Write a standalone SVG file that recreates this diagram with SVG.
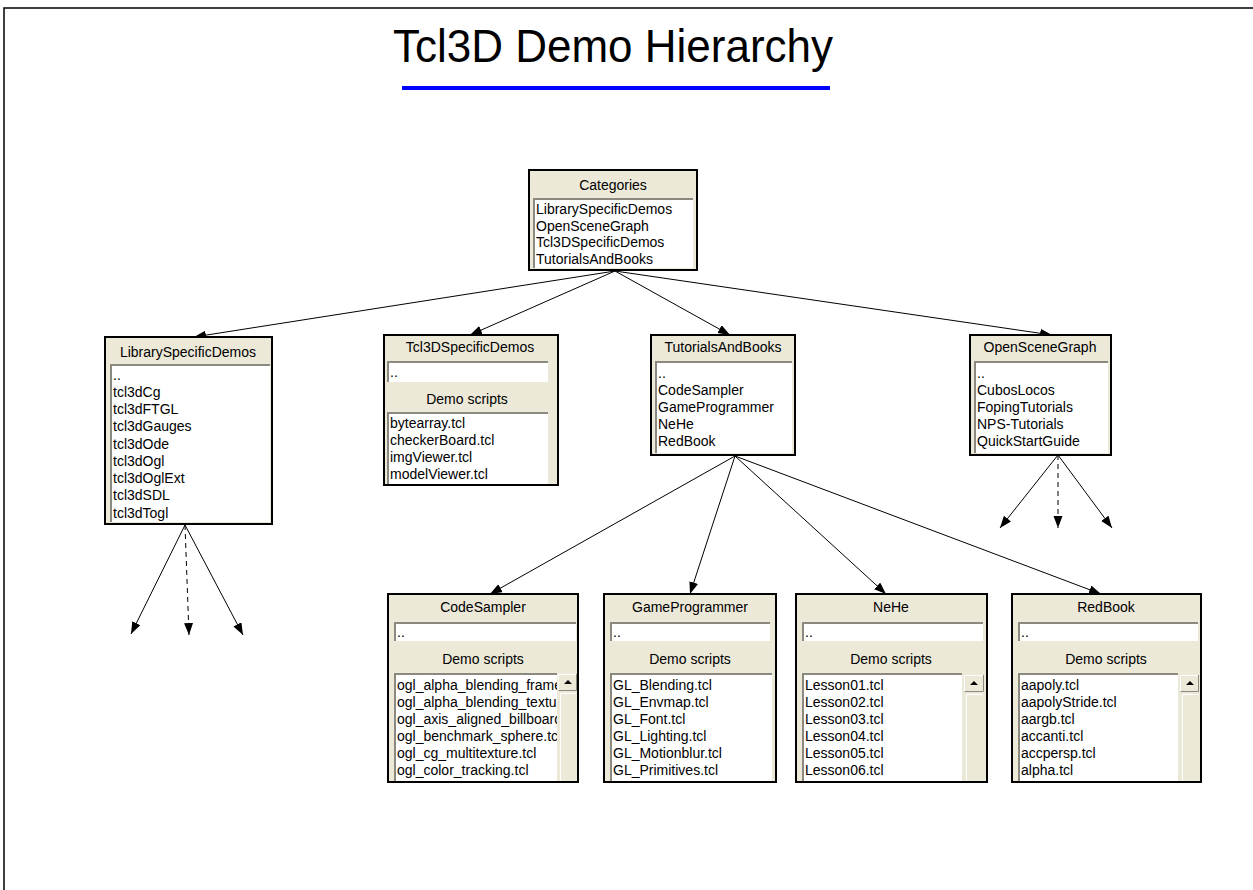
<svg xmlns="http://www.w3.org/2000/svg" width="1253" height="890" viewBox="0 0 1253 890">
<style>
.frame{fill:none;stroke:#000;stroke-width:1.5}
.box{fill:#ECE9D8;stroke:#000;stroke-width:2}
.lb{fill:#fff}
.sk{fill:none;stroke:#8c8a80;stroke-width:2}
.hl{fill:none;stroke:#fff;stroke-width:1}
.sh{fill:none;stroke:#8c8a80;stroke-width:1}
.sb{fill:#ECE9D8}
.t{font-family:"Liberation Sans",Arial,sans-serif;font-size:14px;fill:#000}
.h{text-anchor:middle}
.title{font-family:"Liberation Sans",Arial,sans-serif;font-size:46px;fill:#000;text-anchor:middle}
.edge{stroke:#000;stroke-width:1;fill:none;marker-end:url(#ah)}
.dash{stroke-dasharray:5 4}
</style>
<defs>
<marker id="ah" markerUnits="userSpaceOnUse" markerWidth="13" markerHeight="10" refX="12" refY="4.5" orient="auto">
<path d="M0,0 L12,4.5 L0,9 z" fill="#000"/>
</marker>
<clipPath id="c1"><rect x="394" y="673" width="163" height="108"/></clipPath>
<clipPath id="c2"><rect x="610" y="673" width="162" height="108"/></clipPath>
<clipPath id="c3"><rect x="802" y="673" width="160" height="108"/></clipPath>
<clipPath id="c4"><rect x="1018" y="673" width="160" height="108"/></clipPath>
</defs>
<rect width="1253" height="890" fill="#fff"/>
<rect class="frame" x="4" y="8" width="1262" height="900"/>
<g id="title">
<text class="title" x="613" y="62" textLength="440" lengthAdjust="spacingAndGlyphs">Tcl3D Demo Hierarchy</text>
<rect x="402" y="86" width="428" height="4" fill="#0000FF"/>
</g>
<g id="connectors">
<line class="edge" x1="615" y1="271" x2="194" y2="337"/>
<line class="edge" x1="615" y1="271" x2="470" y2="335"/>
<line class="edge" x1="615" y1="271" x2="730" y2="335"/>
<line class="edge" x1="615" y1="271" x2="1052" y2="335"/>
<line class="edge" x1="735" y1="456" x2="490" y2="594"/>
<line class="edge" x1="735" y1="456" x2="690" y2="594"/>
<line class="edge" x1="735" y1="456" x2="886" y2="594"/>
<line class="edge" x1="735" y1="456" x2="1101" y2="594"/>
<line class="edge" x1="185" y1="525" x2="131" y2="634"/>
<line class="edge dash" x1="185" y1="525" x2="189" y2="635"/>
<line class="edge" x1="185" y1="525" x2="243" y2="635"/>
<line class="edge" x1="1058" y1="455" x2="1000" y2="528"/>
<line class="edge dash" x1="1058" y1="455" x2="1058" y2="528"/>
<line class="edge" x1="1058" y1="455" x2="1112" y2="528"/>
</g>
<g id="categories">
<rect class="box" x="529" y="170" width="168" height="100"/>
<text class="t h" x="613" y="190">Categories</text>
<rect class="lb" x="533" y="198" width="160" height="70"/>
<path class="sk" d="M534,268 V199 H693"/>
<text class="t" x="536" y="214">LibrarySpecificDemos</text>
<text class="t" x="536" y="231">OpenSceneGraph</text>
<text class="t" x="536" y="247">Tcl3DSpecificDemos</text>
<text class="t" x="536" y="264">TutorialsAndBooks</text>
</g>
<g id="libraryspecificdemos">
<rect class="box" x="105" y="337" width="167" height="187"/>
<text class="t h" x="188" y="357">LibrarySpecificDemos</text>
<rect class="lb" x="110" y="364" width="160" height="158"/>
<path class="sk" d="M111,522 V365 H270"/>
<text class="t" x="113" y="380">..</text>
<text class="t" x="113" y="397">tcl3dCg</text>
<text class="t" x="113" y="414">tcl3dFTGL</text>
<text class="t" x="113" y="431">tcl3dGauges</text>
<text class="t" x="113" y="449">tcl3dOde</text>
<text class="t" x="113" y="466">tcl3dOgl</text>
<text class="t" x="113" y="483">tcl3dOglExt</text>
<text class="t" x="113" y="500">tcl3dSDL</text>
<text class="t" x="113" y="518">tcl3dTogl</text>
</g>
<g id="tcl3dspecificdemos">
<rect class="box" x="384" y="335" width="174" height="150"/>
<text class="t h" x="470" y="352">Tcl3DSpecificDemos</text>
<rect class="lb" x="387" y="361" width="161" height="21"/>
<path class="sk" d="M388,382 V362 H548"/>
<text class="t" x="390" y="377">..</text>
<text class="t h" x="467" y="404">Demo scripts</text>
<rect class="lb" x="387" y="412" width="161" height="72"/>
<path class="sk" d="M388,484 V413 H548"/>
<text class="t" x="390" y="428">bytearray.tcl</text>
<text class="t" x="390" y="445">checkerBoard.tcl</text>
<text class="t" x="390" y="462">imgViewer.tcl</text>
<text class="t" x="390" y="479">modelViewer.tcl</text>
</g>
<g id="tutorialsandbooks">
<rect class="box" x="651" y="335" width="144" height="120"/>
<text class="t h" x="723" y="352">TutorialsAndBooks</text>
<rect class="lb" x="655" y="361" width="137" height="92"/>
<path class="sk" d="M656,453 V362 H792"/>
<text class="t" x="658" y="378">..</text>
<text class="t" x="658" y="395">CodeSampler</text>
<text class="t" x="658" y="412">GameProgrammer</text>
<text class="t" x="658" y="429">NeHe</text>
<text class="t" x="658" y="446">RedBook</text>
</g>
<g id="openscenegraph">
<rect class="box" x="970" y="335" width="141" height="120"/>
<text class="t h" x="1040" y="352">OpenSceneGraph</text>
<rect class="lb" x="974" y="361" width="134" height="92"/>
<path class="sk" d="M975,453 V362 H1108"/>
<text class="t" x="977" y="378">..</text>
<text class="t" x="977" y="395">CubosLocos</text>
<text class="t" x="977" y="412">FopingTutorials</text>
<text class="t" x="977" y="429">NPS-Tutorials</text>
<text class="t" x="977" y="446">QuickStartGuide</text>
</g>
<g id="codesampler">
<rect class="box" x="388" y="594" width="190" height="188"/>
<text class="t h" x="483" y="612">CodeSampler</text>
<rect class="lb" x="394" y="622" width="182" height="19"/>
<path class="sk" d="M395,641 V623 H576"/>
<text class="t" x="397" y="637">..</text>
<text class="t h" x="483" y="664">Demo scripts</text>
<rect class="lb" x="394" y="673" width="163" height="108"/>
<path class="sk" d="M395,781 V674 H557"/>
<g clip-path="url(#c1)">
<text class="t" x="397" y="690">ogl_alpha_blending_frame.tcl</text>
<text class="t" x="397" y="707">ogl_alpha_blending_texture.tcl</text>
<text class="t" x="397" y="724">ogl_axis_aligned_billboard.tcl</text>
<text class="t" x="397" y="741">ogl_benchmark_sphere.tcl</text>
<text class="t" x="397" y="758">ogl_cg_multitexture.tcl</text>
<text class="t" x="397" y="775">ogl_color_tracking.tcl</text>
</g>
<rect class="sb" x="558" y="674" width="19" height="17"/>
<path class="hl" d="M558.5,690 V674.5 H576"/>
<path class="sh" d="M558.5,690.5 H576.5 V674"/>
<path d="M564,684 L568,680 L572,684 z" fill="#000"/>
<path class="hl" d="M560.5,781 V693.5 H576"/>
</g>
<g id="gameprogrammer">
<rect class="box" x="604" y="594" width="172" height="188"/>
<text class="t h" x="690" y="612">GameProgrammer</text>
<rect class="lb" x="610" y="622" width="160" height="19"/>
<path class="sk" d="M611,641 V623 H770"/>
<text class="t" x="613" y="637">..</text>
<text class="t h" x="690" y="664">Demo scripts</text>
<rect class="lb" x="610" y="673" width="162" height="108"/>
<path class="sk" d="M611,781 V674 H772"/>
<g clip-path="url(#c2)">
<text class="t" x="613" y="690">GL_Blending.tcl</text>
<text class="t" x="613" y="707">GL_Envmap.tcl</text>
<text class="t" x="613" y="724">GL_Font.tcl</text>
<text class="t" x="613" y="741">GL_Lighting.tcl</text>
<text class="t" x="613" y="758">GL_Motionblur.tcl</text>
<text class="t" x="613" y="775">GL_Primitives.tcl</text>
</g>
</g>
<g id="nehe">
<rect class="box" x="796" y="594" width="191" height="188"/>
<text class="t h" x="891" y="612">NeHe</text>
<rect class="lb" x="802" y="622" width="181" height="19"/>
<path class="sk" d="M803,641 V623 H983"/>
<text class="t" x="805" y="637">..</text>
<text class="t h" x="891" y="664">Demo scripts</text>
<rect class="lb" x="802" y="673" width="160" height="108"/>
<path class="sk" d="M803,781 V674 H962"/>
<g clip-path="url(#c3)">
<text class="t" x="805" y="690">Lesson01.tcl</text>
<text class="t" x="805" y="707">Lesson02.tcl</text>
<text class="t" x="805" y="724">Lesson03.tcl</text>
<text class="t" x="805" y="741">Lesson04.tcl</text>
<text class="t" x="805" y="758">Lesson05.tcl</text>
<text class="t" x="805" y="775">Lesson06.tcl</text>
</g>
<rect class="sb" x="964" y="675" width="20" height="17"/>
<path class="hl" d="M964.5,691 V675.5 H983"/>
<path class="sh" d="M964.5,691.5 H983.5 V675"/>
<path d="M970,685 L974,681 L978,685 z" fill="#000"/>
<path class="hl" d="M966.5,781 V694.5 H983"/>
</g>
<g id="redbook">
<rect class="box" x="1012" y="594" width="189" height="188"/>
<text class="t h" x="1106" y="612">RedBook</text>
<rect class="lb" x="1018" y="622" width="180" height="19"/>
<path class="sk" d="M1019,641 V623 H1198"/>
<text class="t" x="1021" y="637">..</text>
<text class="t h" x="1106" y="664">Demo scripts</text>
<rect class="lb" x="1018" y="673" width="160" height="108"/>
<path class="sk" d="M1019,781 V674 H1178"/>
<g clip-path="url(#c4)">
<text class="t" x="1021" y="690">aapoly.tcl</text>
<text class="t" x="1021" y="707">aapolyStride.tcl</text>
<text class="t" x="1021" y="724">aargb.tcl</text>
<text class="t" x="1021" y="741">accanti.tcl</text>
<text class="t" x="1021" y="758">accpersp.tcl</text>
<text class="t" x="1021" y="775">alpha.tcl</text>
</g>
<rect class="sb" x="1180" y="675" width="19" height="17"/>
<path class="hl" d="M1180.5,691 V675.5 H1198"/>
<path class="sh" d="M1180.5,691.5 H1198.5 V675"/>
<path d="M1186,685 L1190,681 L1194,685 z" fill="#000"/>
<path class="hl" d="M1182.5,781 V694.5 H1198"/>
</g>
</svg>
